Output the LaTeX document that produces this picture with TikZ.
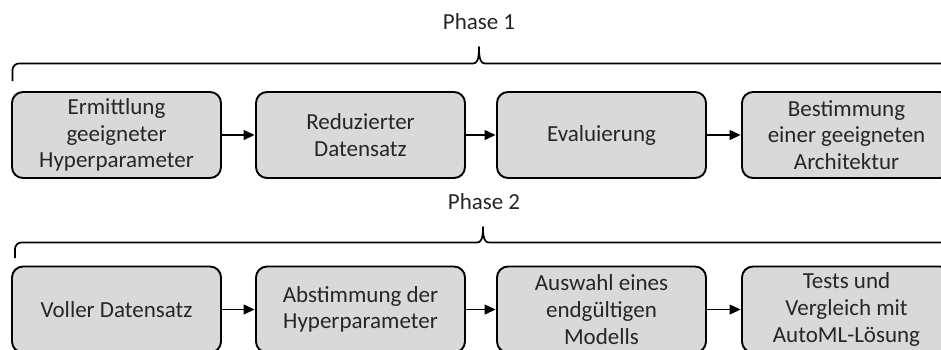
\documentclass[tikz,border=0pt]{standalone}
\usepackage{fontspec}
\setmainfont{Carlito}
\usetikzlibrary{arrows.meta}
\definecolor{boxfill}{HTML}{D9D9D9}
\definecolor{txt}{HTML}{262626}
\tikzset{
  stage/.style={draw=black, line width=1.9pt, fill=boxfill, rounded corners=11pt,
    minimum width=209pt, minimum height=86pt, inner sep=0pt, align=center,
    text=txt, font=\fontsize{23}{26.7}\selectfont},
  flow/.style={line width=1.2pt, -{Triangle[length=11pt,width=10pt]}, shorten >=0.5pt},
  brace/.style={line width=1.7pt, line join=round},
  phase/.style={text=txt, font=\fontsize{23}{26.7}\selectfont, inner sep=0pt}
}
\begin{document}
\begin{tikzpicture}[x=1pt, y=-1pt]
  \useasboundingbox (0,0) rectangle (941,349);
  \clip (0,0) rectangle (941,349);

  % Phase 1
  \node[phase] (p1) at (479,22) {Phase 1};
  \coordinate (b1l) at (12.5,81);
  \coordinate (b1t) at (479,47);
  \draw[brace] (b1l) -- (12.5,70) arc[start angle=180, end angle=270, radius=6.5]
    -- (473,63.5) .. controls (477,63.5) and (479,60) .. (b1t)
    .. controls (479,60) and (481,63.5) .. (485,63.5) -- (960,63.5);

  \node[stage] (a1) at (116.5,135) {Ermittlung\\geeigneter\\Hyperparameter};
  \node[stage] (a2) at (360.5,135) {Reduzierter\\Datensatz};
  \node[stage] (a3) at (601.5,135) {Evaluierung};
  \node[stage] (a4) at (846.5,135) {Bestimmung\\einer geeigneten\\Architektur};
  \draw[flow] (a1) -- (a2);
  \draw[flow] (a2) -- (a3);
  \draw[flow] (a3) -- (a4);

  % Phase 2
  \node[phase] (p2) at (484,202) {Phase 2};
  \coordinate (b2l) at (15,258);
  \coordinate (b2t) at (483,227);
  \draw[brace] (b2l) -- (15,249) arc[start angle=180, end angle=270, radius=6.5]
    -- (477,242.5) .. controls (481,242.5) and (483,239) .. (b2t)
    .. controls (483,239) and (485,242.5) .. (489,242.5) -- (960,242.5);

  \node[stage] (c1) at (116.5,309.5) {Voller Datensatz};
  \node[stage] (c2) at (360.5,309.5) {Abstimmung der\\Hyperparameter};
  \node[stage] (c3) at (601.5,309.5) {Auswahl eines\\endgültigen\\Modells};
  \node[stage] (c4) at (846.5,309.5) {Tests und\\Vergleich mit\\AutoML-Lösung};
  \draw[flow] (c1) -- (c2);
  \draw[flow] (c2) -- (c3);
  \draw[flow] (c3) -- (c4);
\end{tikzpicture}
\end{document}
